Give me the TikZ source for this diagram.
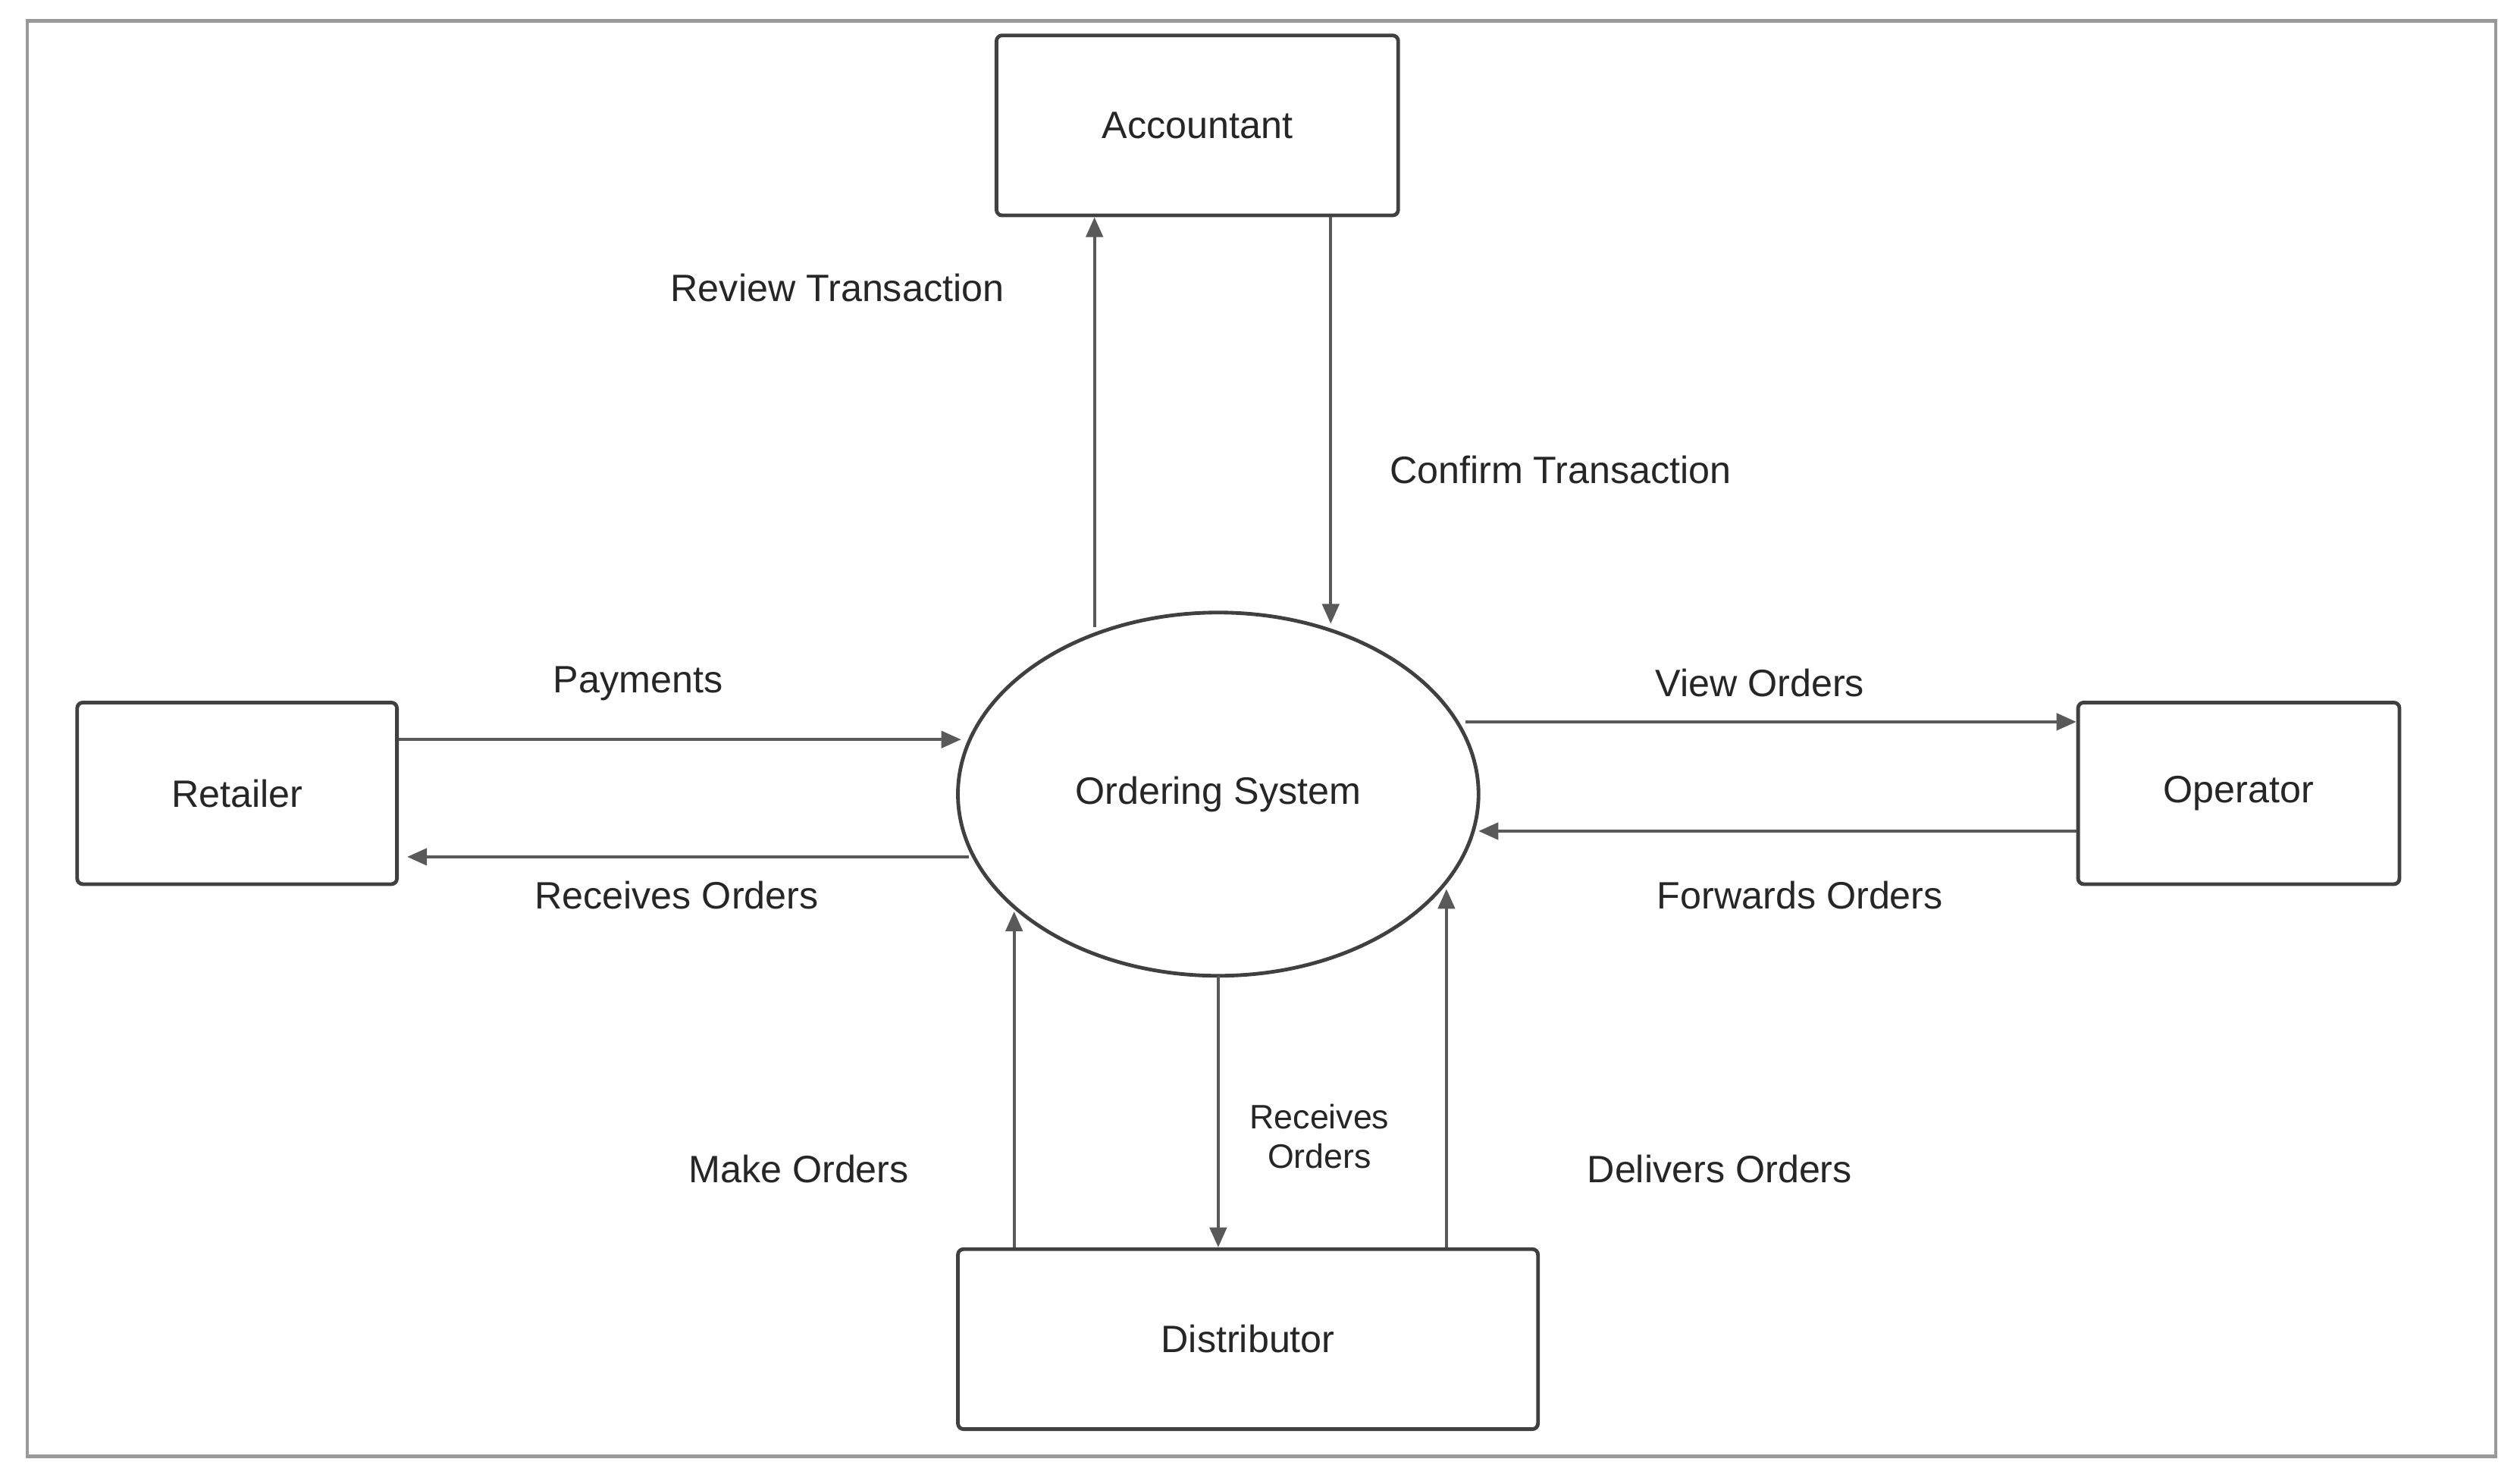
\documentclass[tikz,border=0pt]{standalone}
\usepackage{fontspec}
\setmainfont{Liberation Sans}
\usetikzlibrary{shapes.geometric,arrows.meta}
\begin{document}
\begin{tikzpicture}[x=0.02cm,y=-0.02cm,
  box/.style={draw=black!75,line width=1.3pt,rounded corners=2pt,inner sep=0,text=black!85},
  flow/.style={draw=black!65,line width=1pt,-{Triangle[length=7pt,width=6pt]}},
  lbl/.style={text=black!85,font=\fontsize{13.5}{16}\selectfont},
  every node/.append style={font=\fontsize{13.5}{16}\selectfont}]
\useasboundingbox (0,0) rectangle (1568,921);
\draw[black!40,line width=1.2pt] (17,13) rectangle (1553,906);
\node[box,minimum width=5cm,minimum height=2.24cm] (acc) at (745,78) {Accountant};
\node[box,minimum width=3.98cm,minimum height=2.26cm] (ret) at (147.5,493.5) {Retailer};
\node[box,minimum width=4cm,minimum height=2.26cm] (op) at (1393,493.5) {Operator};
\node[box,minimum width=7.22cm,minimum height=2.24cm] (dis) at (776.5,833) {Distributor};
\node[ellipse,draw=black!75,line width=1.3pt,minimum width=6.48cm,minimum height=4.52cm,inner sep=0,text=black!85] (sys) at (758,494) {Ordering System};
% boundary points
\coordinate (s1) at (681,390); \coordinate (s2) at (828,388);
\coordinate (s3) at (598,460); \coordinate (s4) at (603,533);
\coordinate (s5) at (912,449); \coordinate (s6) at (920,517);
\coordinate (s7) at (631,567); \coordinate (s8) at (758,607);
\coordinate (s9) at (900,553);
\draw[flow] (s1) -- (s1 |- acc.south);
\draw[flow] (s2 |- acc.south) -- (s2);
\draw[flow] (s3 -| ret.east) -- (s3);
\draw[flow] (s4) -- ([xshift=3pt]s4 -| ret.east);
\draw[flow] (s5) -- (s5 -| op.west);
\draw[flow] (s6 -| op.west) -- (s6);
\draw[flow] (s7 |- dis.north) -- (s7);
\draw[flow] (s8) -- (s8 |- dis.north);
\draw[flow] (s9 |- dis.north) -- (s9);
\node[lbl] (l1) at (521,179) {Review Transaction};
\node[lbl] (l2) at (971,292) {Confirm Transaction};
\node[lbl] (l3) at (397,425) {Payments};
\node[lbl] (l4) at (421,557) {Receives Orders};
\node[lbl] (l5) at (1095,425) {View Orders};
\node[lbl] (l6) at (1120,557) {Forwards Orders};
\node[lbl] (l7) at (497,727) {Make Orders};
\node[lbl,align=center,font=\fontsize{12}{14}\selectfont] (l8) at (821,707) {Receives\\Orders};
\node[lbl] (l9) at (1070,727) {Delivers Orders};
\end{tikzpicture}
\end{document}
